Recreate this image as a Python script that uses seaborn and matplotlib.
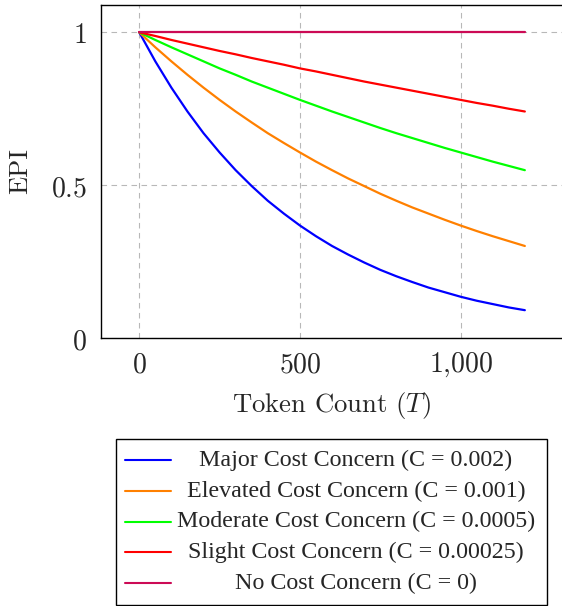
import numpy as np
import pandas as pd
import seaborn as sns
import matplotlib.pyplot as plt
from matplotlib.lines import Line2D
from matplotlib.patches import Rectangle

# ---------------- data ----------------
tokens = [0, 50, 100, 150, 200, 250, 300, 350, 400, 450, 500, 550, 600,
          650, 700, 750, 800, 850, 900, 950, 1000, 1050, 1100, 1150, 1200]

major = [1.000, 0.905, 0.819, 0.741, 0.670, 0.607, 0.549, 0.497, 0.449,
         0.407, 0.368, 0.333, 0.301, 0.273, 0.247, 0.223, 0.202, 0.183,
         0.165, 0.150, 0.135, 0.122, 0.111, 0.100, 0.091]
elevated = [1.000, 0.951, 0.905, 0.861, 0.819, 0.779, 0.741, 0.705, 0.670,
            0.638, 0.607, 0.577, 0.549, 0.522, 0.497, 0.472, 0.449, 0.427,
            0.407, 0.387, 0.368, 0.350, 0.333, 0.317, 0.301]
moderate = [1.000, 0.975, 0.951, 0.928, 0.905, 0.882, 0.861, 0.839, 0.819,
            0.799, 0.779, 0.760, 0.741, 0.723, 0.705, 0.687, 0.670, 0.654,
            0.638, 0.622, 0.607, 0.592, 0.577, 0.563, 0.549]
slight = [1.000, 0.988, 0.975, 0.963, 0.951, 0.939, 0.928, 0.916, 0.905,
          0.894, 0.882, 0.872, 0.861, 0.850, 0.839, 0.829, 0.819, 0.809,
          0.799, 0.789, 0.779, 0.769, 0.760, 0.750, 0.741]
no_cost = [1.000] * 25

series_names = ["Major Cost Concern (C = 0.002)",
                "Elevated Cost Concern (C = 0.001)",
                "Moderate Cost Concern (C = 0.0005)",
                "Slight Cost Concern (C = 0.00025)",
                "No Cost Concern (C = 0)"]
series_values = [major, elevated, moderate, slight, no_cost]
colors = ["#0000ff", "#ff8000", "#00ff00", "#ff0000", "#cc0a55"]

x_ticks = [0, 500, 1000]
x_tick_labels = ["$0$", "$500$", "$1{,}000$"]
y_ticks = [0, 0.5, 1]
y_tick_labels = ["$0$", "$0.5$", "$1$"]

df = pd.concat(
    [pd.DataFrame({"T": tokens, "EPI": vals, "series": name})
     for name, vals in zip(series_names, series_values)],
    ignore_index=True)

# ---------------- style ----------------
sns.set_style("white")
plt.rcParams["mathtext.fontset"] = "cm"

W, H = 562, 606
fig = plt.figure(figsize=(W / 100, H / 100), dpi=100)
ax_left, ax_right, ax_top, ax_bottom = 100.7, 563.4, 4.5, 338.0
ax = fig.add_axes([ax_left / W, (H - ax_bottom) / H,
                   (ax_right - ax_left) / W, (ax_bottom - ax_top) / H])

sns.lineplot(data=df, x="T", y="EPI", hue="series", hue_order=series_names,
             palette=dict(zip(series_names, colors)), linewidth=1.6,
             estimator=None, sort=False, legend=False, ax=ax)

ax.set_xlim(-120, 1320)
ax.set_ylim(0, 1.091)
ax.set_xticks(x_ticks)
ax.set_xticklabels(x_tick_labels, fontsize=20)
ax.set_yticks(y_ticks)
ax.set_yticklabels(y_tick_labels, fontsize=20)
ax.tick_params(length=0)
ax.tick_params(axis="x", pad=9)
ax.tick_params(axis="y", pad=10)
ax.grid(True, linestyle=(0, (5, 4)), color="#b8b8b8", linewidth=0.8)
ax.set_axisbelow(True)
for s in ax.spines.values():
    s.set_color("black")
    s.set_linewidth(1.0)

ax.set_xlabel("Token Count ($T$)", fontfamily="cmr10", fontsize=19.2)
ax.set_ylabel("EPI", fontfamily="cmr10", fontsize=19.2)
ax.xaxis.set_label_coords(0.499, -0.155)
ax.yaxis.set_label_coords(-0.148, 0.5)

# ---------------- legend box ----------------
lx0, lx1, ly0, ly1 = 116, 547, 439, 605
fig.add_artist(Rectangle((lx0 / W, (H - ly1) / H), (lx1 - lx0) / W,
                         (ly1 - ly0) / H, transform=fig.transFigure,
                         facecolor="white", edgecolor="black", linewidth=1.0))
row_y = [460, 491, 521.5, 552, 583]
for name, col, yy in zip(series_names, colors, row_y):
    fig.add_artist(Line2D([125 / W, 171 / W], [(H - yy) / H] * 2,
                          transform=fig.transFigure, color=col, linewidth=1.5))
    fig.text(356 / W, (H - yy - 6) / H, name, ha="center", va="baseline",
             fontsize=17.3, family="Liberation Serif")

fig.savefig("out.png", dpi=100)
